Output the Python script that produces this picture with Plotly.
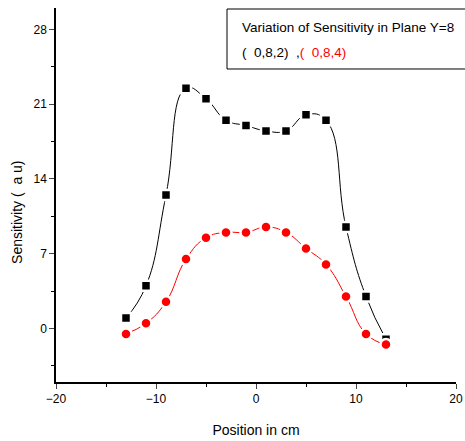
import plotly.graph_objects as go

x_pos = [-13, -11, -9, -7, -5, -3, -1, 1, 3, 5, 7, 9, 11, 13]
sens_082 = [1.0, 4.0, 12.5, 22.5, 21.5, 19.5, 19.0, 18.5, 18.5, 20.0, 19.5, 9.5, 3.0, -1.0]
sens_084 = [-0.5, 0.5, 2.5, 6.5, 8.5, 9.0, 9.0, 9.5, 9.0, 7.5, 6.0, 3.0, -0.5, -1.5]
x_ticks = [-20, -10, 0, 10, 20]
y_ticks = [0, 7, 14, 21, 28]

font = "Liberation Sans, Arial, sans-serif"

fig = go.Figure()
fig.add_trace(go.Scatter(
    x=x_pos, y=sens_082, mode="lines+markers",
    line=dict(color="black", width=1, shape="spline", smoothing=1.3),
    marker=dict(symbol="square", size=10, color="black", line=dict(color="white", width=2.5)),
    showlegend=False))
fig.add_trace(go.Scatter(
    x=x_pos, y=sens_084, mode="lines+markers",
    line=dict(color="red", width=1, shape="spline", smoothing=1.3),
    marker=dict(symbol="circle", size=11, color="red", line=dict(color="white", width=2.5)),
    showlegend=False))

fig.update_layout(
    width=465, height=441,
    margin=dict(l=56, r=9, t=8, b=59, autoexpand=False),
    paper_bgcolor="white", plot_bgcolor="white",
    font=dict(family=font, size=12, color="black"),
    xaxis=dict(range=[-20, 20], tickvals=x_ticks, ticks="outside", ticklen=5, tickwidth=1,
               showline=True, linecolor="black", linewidth=1.5, showgrid=False, zeroline=False,
               automargin=False,
               minor=dict(tickvals=[-15, -5, 5, 15], ticks="outside", ticklen=3, tickcolor="black"),
               title=dict(text="Position in cm", font=dict(size=14), standoff=20)),
    yaxis=dict(range=[-5, 30], tickvals=y_ticks, ticks="outside", ticklen=5, tickwidth=1,
               showline=True, linecolor="black", linewidth=1.5, showgrid=False, zeroline=False,
               automargin=False,
               minor=dict(tickvals=[-3.5, 3.5, 10.5, 17.5, 24.5], ticks="outside", ticklen=3, tickcolor="black")),
)

fig.add_annotation(xref="paper", yref="paper", x=-0.0975, y=0.452, xanchor="center", yanchor="middle",
                   text="Sensitivity (  a u)", textangle=-90, showarrow=False,
                   font=dict(family=font, size=14, color="black"))

fig.add_shape(type="rect", xref="paper", yref="paper", x0=0.4275, x1=1.03, y0=0.8369, y1=0.9973,
              line=dict(color="black", width=1), fillcolor="white", layer="above")
fig.add_annotation(xref="paper", yref="paper", x=0.46, y=0.949, xanchor="left", yanchor="middle",
                   text="Variation of Sensitivity in Plane Y=8", showarrow=False,
                   font=dict(family=font, size=13.5, color="black"))
fig.add_annotation(xref="paper", yref="paper", x=0.46, y=0.882, xanchor="left", yanchor="middle",
                   text="(  0,8,2)  ,<span style='color:red'>(  0,8,4)</span>", showarrow=False,
                   font=dict(family=font, size=13.5, color="black"))

fig.write_html("out.html")
